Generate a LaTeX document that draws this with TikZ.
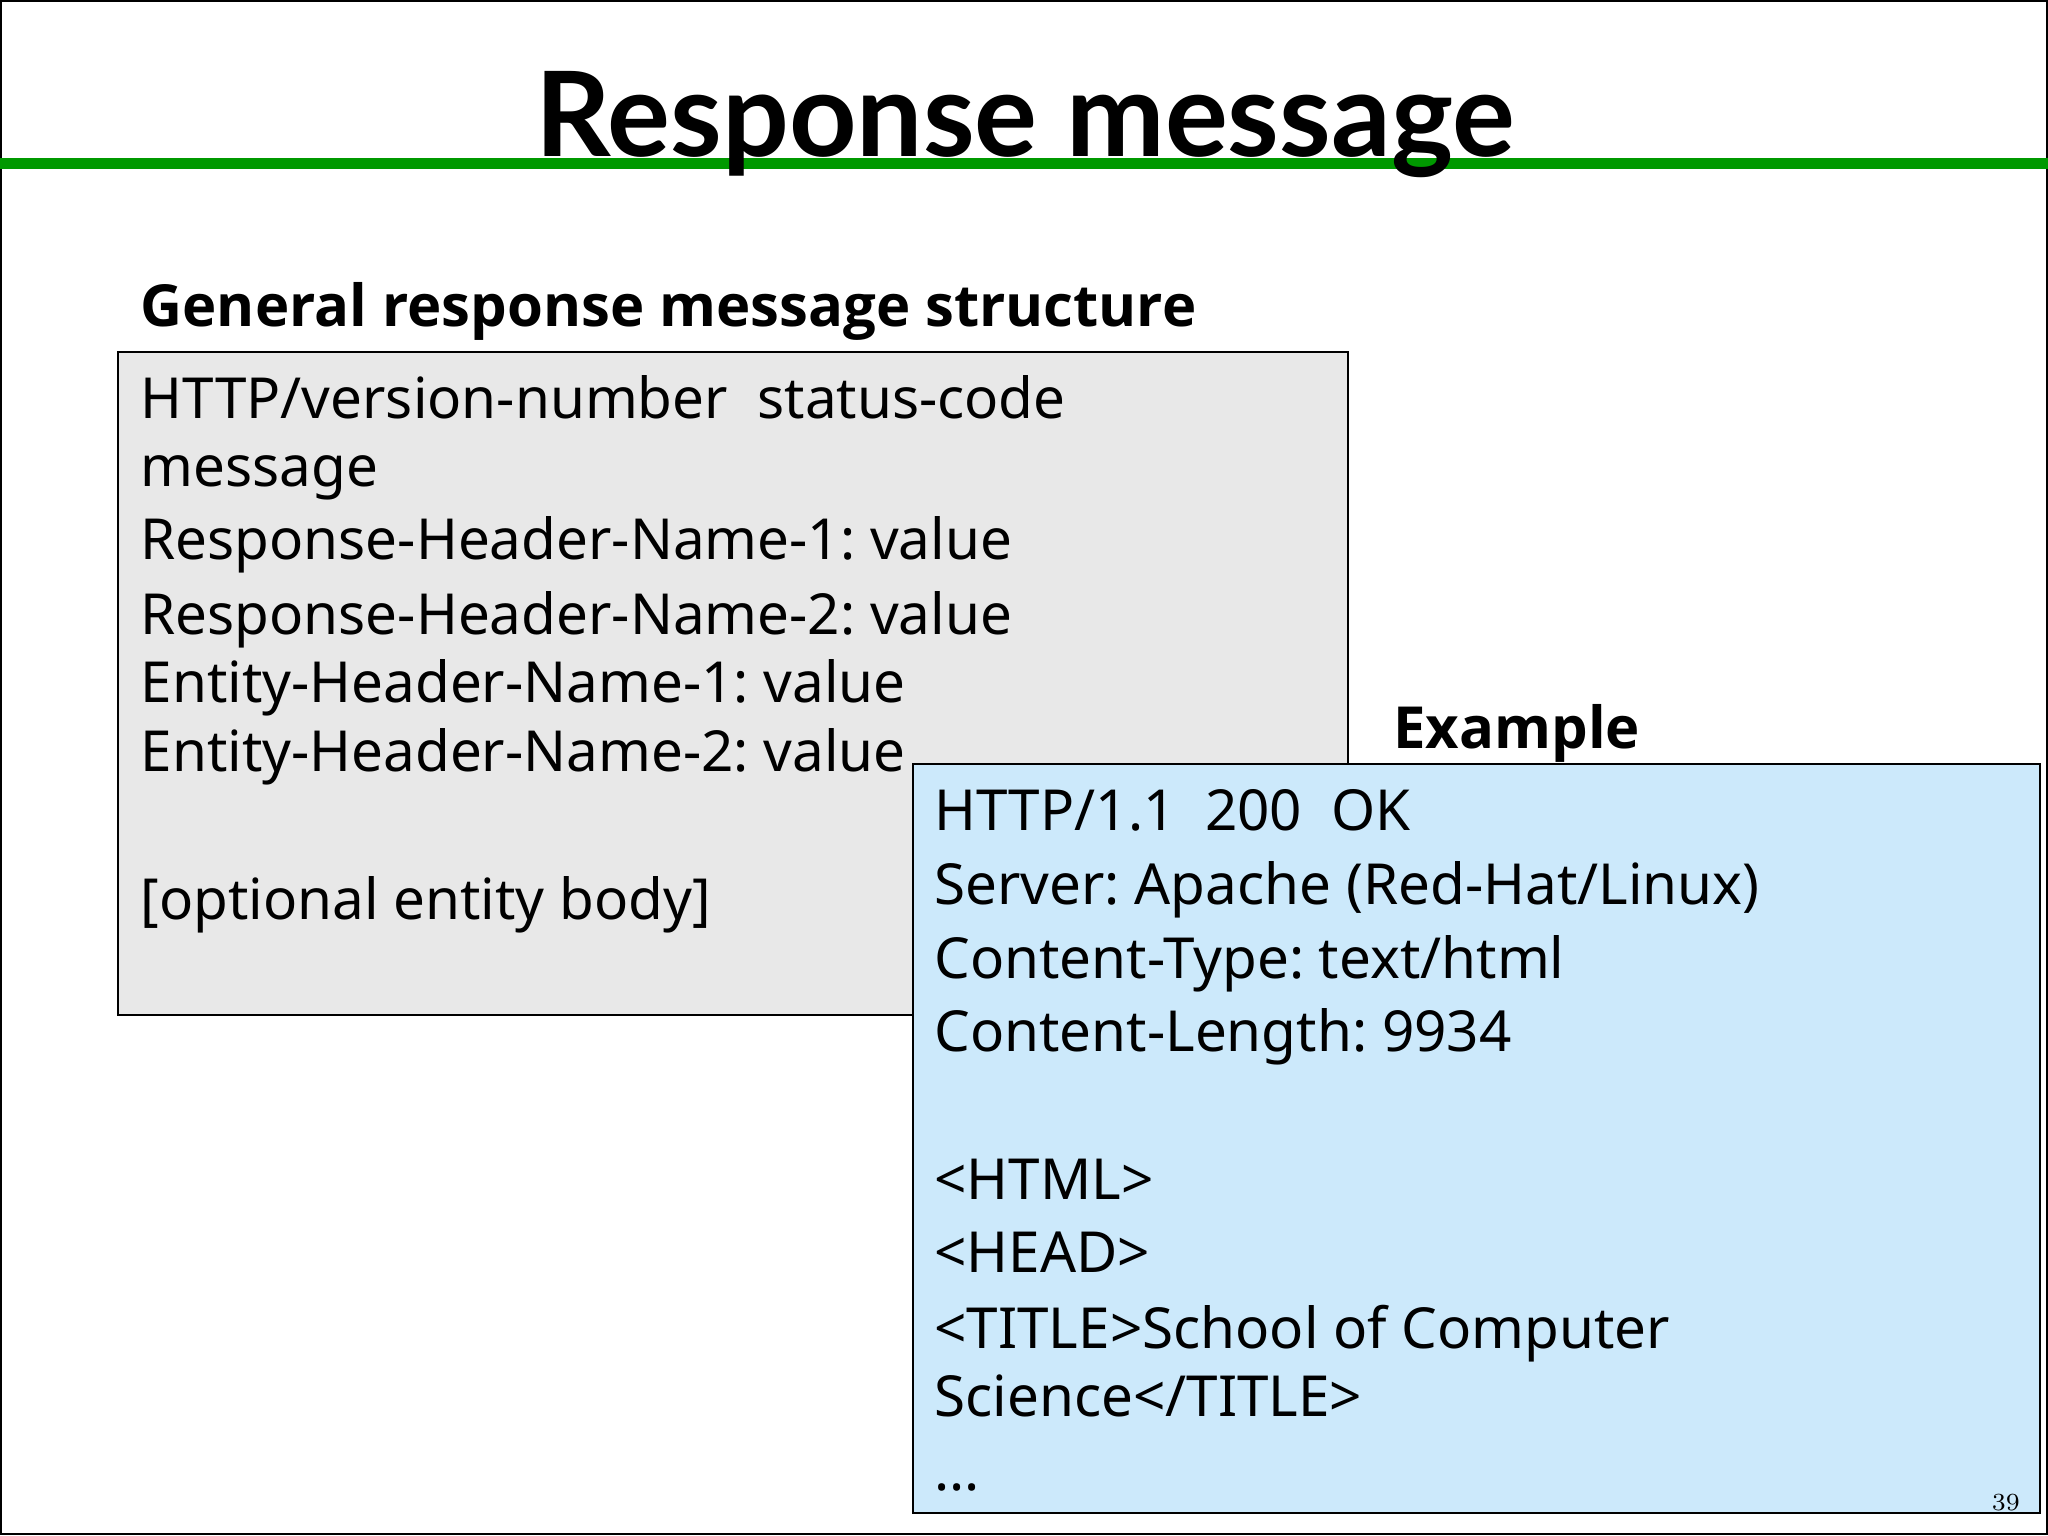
\documentclass[tikz,border=0pt]{standalone}
\usepackage{fontspec}
\setmainfont{Open Sans}
\newfontfamily\bodyfont{Noto Sans}
\newfontfamily\titlefont{Lato}
\definecolor{gbox}{HTML}{E8E8E8}
\definecolor{bbox}{HTML}{CCE9FB}
\definecolor{lgreen}{HTML}{009900}
\frenchspacing
\begin{document}
\begin{tikzpicture}[x=0.01308cm,y=-0.01308cm,
  txt/.style={anchor=base west,inner sep=0,font=\bodyfont\fontsize{16.1}{20}\selectfont},
  hd/.style={anchor=base west,inner sep=0,font=\fontsize{16.5}{20}\selectfont\bfseries}]
\useasboundingbox (0,0) rectangle (1566,1174);
\draw[line width=0.6pt] (1,1) rectangle (1565,1173);
\draw[lgreen,line width=3pt] (0,125) -- (1566,125);
\node[anchor=base,inner sep=0,font=\titlefont\fontsize{33.5}{40}\selectfont\bfseries] (title) at (784,120) {Response message};
\node[hd] (h1) at (107,250) {General response message structure};
\draw[fill=gbox,line width=0.6pt] (90,269) rectangle (1031,776);
\node[txt] (g1) at (107,320) {HTTP/version-number\ \ status-code};
\node[txt] (g2) at (107,372) {message};
\node[txt] (g3) at (107,428) {Response-Header-Name-1: value};
\node[txt] (g4) at (107,485) {Response-Header-Name-2: value};
\node[txt] (g5) at (107,537) {Entity-Header-Name-1: value};
\node[txt] (g6) at (107,590) {Entity-Header-Name-2: value};
\node[txt] (g7) at (107,703) {[optional entity body]};
\node[hd] (h2) at (1065,572) {Example};
\draw[fill=bbox,line width=0.6pt] (698,584) rectangle (1560,1157);
\node[txt] (b1) at (714,635) {HTTP/1.1\ \ 200\ \ OK};
\node[txt] (b2) at (714,692) {Server: Apache (Red-Hat/Linux)};
\node[txt] (b3) at (714,748) {Content-Type: text/html};
\node[txt] (b4) at (714,804) {Content-Length: 9934};
\node[txt] (b5) at (714,917) {<HTML>};
\node[txt] (b6) at (714,973) {<HEAD>};
\node[txt] (b7) at (714,1031) {<TITLE>School of Computer};
\node[txt] (b8) at (714,1083) {Science</TITLE>};
\node[txt] (b9) at (714,1140) {...};
\node[anchor=base east,inner sep=0,font=\fontfamily{lmr}\fontsize{7}{8}\selectfont] (pg) at (1545,1155) {39};
\end{tikzpicture}
\end{document}
